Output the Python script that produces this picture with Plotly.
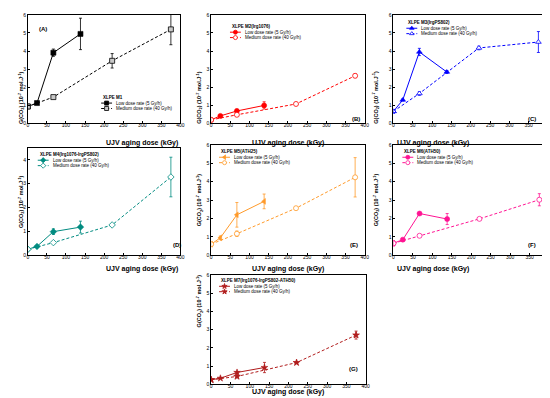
import plotly.graph_objects as go

W, H = 550, 398

dose_low = [0, 24, 67, 138]
dose_med = [0, 67, 221, 375]

panels = ["A", "B", "C", "D", "E", "F", "G"]
titles = ["XLPE M1", "XLPE M2(Irg1076)", "XLPE M3(IrgPS802)", "XLPE M4(Irg1076-IrgPS802)",
          "XLPE M5(ATH25)", "XLPE M6(ATH50)", "XLPE M7(Irg1076-IrgPS802-ATH50)"]
name_low = "Low dose rate (5 Gy/h)"
name_med = "Medium dose rate (40 Gy/h)"

low_A = [0.93, 1.12, 3.91, 4.95]; low_A_err = [0.05, 0.05, 0.2, 0.87]
med_A = [0.93, 1.45, 3.46, 5.2]; med_A_err = [0.05, 0.08, 0.4, 0.85]
low_B = [0.19, 0.41, 0.68, 0.99]; low_B_err = [0.05, 0.05, 0.1, 0.2]
med_B = [0.19, 0.47, 1.07, 2.63]; med_B_err = [0.05, 0.05, 0.05, 0.1]
low_C = [0.66, 1.29, 3.95, 2.84]; low_C_err = [0.1, 0.05, 0.2, 0.08]
med_C = [0.66, 1.65, 4.17, 4.5]; med_C_err = [0.1, 0.1, 0.1, 0.58]
low_D = [0.25, 0.37, 0.99, 1.18]; low_D_err = [0.03, 0.03, 0.12, 0.25]
med_D = [0.25, 0.53, 1.27, 3.28]; med_D_err = [0.03, 0.03, 0.05, 0.83]
low_E = [0.6, 0.95, 2.2, 2.93]; low_E_err = [0.1, 0.1, 0.67, 0.4]
med_E = [0.6, 1.17, 2.56, 4.24]; med_E_err = [0.1, 0.15, 0.07, 1.07]
low_F = [0.65, 0.85, 2.27, 1.97]; low_F_err = [0.1, 0.07, 0.05, 0.3]
med_F = [0.65, 1.06, 1.98, 3.02]; med_F_err = [0.15, 0.05, 0.05, 0.33]
low_G = [0.25, 0.33, 0.65, 0.92]; low_G_err = [0.03, 0.03, 0.05, 0.28]
med_G = [0.25, 0.43, 1.19, 2.7]; med_G_err = [0.03, 0.03, 0.05, 0.22]

low_vals = [low_A, low_B, low_C, low_D, low_E, low_F, low_G]
low_errs = [low_A_err, low_B_err, low_C_err, low_D_err, low_E_err, low_F_err, low_G_err]
med_vals = [med_A, med_B, med_C, med_D, med_E, med_F, med_G]
med_errs = [med_A_err, med_B_err, med_C_err, med_D_err, med_E_err, med_F_err, med_G_err]

colors = ["#000000", "#ff0000", "#0000ff", "#008b80", "#ff9a2a", "#ff1493", "#b01c1c"]
sym_low = ["square", "circle", "triangle-up", "diamond", "triangle-left", "circle", "star"]
sym_med = ["square", "circle", "triangle-up", "diamond", "circle", "circle", "star"]
med_fill = ["#c8c8c8", "white", "white", "white", "white", "white", "#b01c1c"]
y_max = [6, 6, 6, 4.5, 6, 6, 6]
DASH = "3px,2px"

# plot boxes in pixels: (left, right, top, bottom)
boxes = [(19, 173, 4, 114), (204, 359, 4, 114), (388, 544, 4, 114),
         (19, 173, 139, 248), (204, 359, 136, 248), (388, 545, 136, 248),
         (204, 360, 268, 379)]
# legend title anchor (left, centre-y) in pixels
leg_pos = [(93, 88), (223, 16), (401, 12), (29, 146), (212, 143), (397, 143), (212, 274)]
label_pos = [(28, 13), (350, 105), (534, 105), (163, 238), (348, 238), (534, 238), (348, 369)]

fig = go.Figure()
layout = dict(width=W, height=H, margin=dict(l=0, r=0, t=0, b=0),
              paper_bgcolor="white", plot_bgcolor="rgba(0,0,0,0)", showlegend=False,
              font=dict(family="Arial", color="black"))
annotations = []

for i, p in enumerate(panels):
    n = i + 1
    xa = "x" if n == 1 else f"x{n}"
    ya = "y" if n == 1 else f"y{n}"
    l, r, t, b = boxes[i]
    c = colors[i]
    fig.add_trace(go.Scatter(
        x=dose_low, y=low_vals[i], xaxis=xa, yaxis=ya,
        name=name_low, mode="lines+markers",
        line=dict(color=c, width=1),
        marker=dict(symbol=sym_low[i], size=5, color=c, line=dict(color=c, width=0.6)),
        error_y=dict(type="data", array=low_errs[i], color=c, thickness=0.8, width=1.5)))
    fig.add_trace(go.Scatter(
        x=dose_med, y=med_vals[i], xaxis=xa, yaxis=ya,
        name=name_med, mode="lines+markers",
        line=dict(color=c, width=1, dash=DASH),
        marker=dict(symbol=sym_med[i], size=5, color=med_fill[i], line=dict(color=c, width=0.8)),
        error_y=dict(type="data", array=med_errs[i], color=c, thickness=0.8, width=1.5)))
    axcommon = dict(showline=True, linecolor="black", linewidth=0.8, mirror=True,
                    ticks="inside", ticklen=2, tickwidth=0.6, tickcolor="black",
                    showgrid=False, zeroline=False, tickfont=dict(size=5, family="Arial"))
    layout["xaxis" if n == 1 else f"xaxis{n}"] = dict(
        axcommon, domain=[l / W, r / W], range=[0, 400], tick0=0, dtick=50,
        anchor=ya, ticklabelstandoff=-3)
    layout["yaxis" if n == 1 else f"yaxis{n}"] = dict(
        axcommon, domain=[1 - b / H, 1 - t / H], range=[0, y_max[i]], tick0=0, dtick=1,
        anchor=xa)

    # custom compact legend
    lx, ly = leg_pos[i]
    annotations.append(dict(text="<b>" + titles[i] + "</b>", x=lx / W, y=1 - ly / H,
                            xref="paper", yref="paper", xanchor="left", yanchor="middle",
                            showarrow=False, font=dict(size=4.5, family="Arial")))
    for k, (nm, dash, sym, fill) in enumerate([(name_low, "solid", sym_low[i], c),
                                               (name_med, DASH, sym_med[i], med_fill[i])]):
        ey = ly + 5.5 * (k + 1)
        fig.add_trace(go.Scatter(x=[lx, lx + 11], y=[ey, ey], xaxis="x8", yaxis="y8",
                                 mode="lines", line=dict(color=c, width=1, dash=dash),
                                 hoverinfo="skip"))
        fig.add_trace(go.Scatter(x=[lx + 5.5], y=[ey], xaxis="x8", yaxis="y8",
                                 mode="markers", hoverinfo="skip",
                                 marker=dict(symbol=sym, size=4, color=fill,
                                             line=dict(color=c, width=0.8))))
        annotations.append(dict(text=nm, x=(lx + 13) / W, y=1 - ey / H,
                                xref="paper", yref="paper", xanchor="left", yanchor="middle",
                                showarrow=False, font=dict(size=4.5, family="Arial")))

    # axis titles
    annotations.append(dict(text="<b>UJV aging dose (kGy)</b>", x=(l + r) / 2 / W,
                            y=1 - (b + 14) / H, xref="paper", yref="paper",
                            showarrow=False, font=dict(size=7, family="Arial")))
    annotations.append(dict(text="<b>G(CO<sub>2</sub>) (10<sup>-7</sup> mol.J<sup>-1</sup>)</b>",
                            x=(l - 12) / W, y=1 - (t + b) / 2 / H, xref="paper", yref="paper",
                            textangle=-90, showarrow=False, font=dict(size=5.5, family="Arial")))
    px, py = label_pos[i]
    annotations.append(dict(text="<b>(" + p + ")</b>", x=px / W, y=1 - py / H,
                            xref="paper", yref="paper", showarrow=False,
                            font=dict(size=6, family="Arial")))

layout["xaxis8"] = dict(domain=[0, 1], range=[0, W], visible=False, fixedrange=True, anchor="y8")
layout["yaxis8"] = dict(domain=[0, 1], range=[H, 0], visible=False, fixedrange=True, anchor="x8")
layout["annotations"] = annotations
fig.update_layout(**layout)
fig.write_html("out.html")
